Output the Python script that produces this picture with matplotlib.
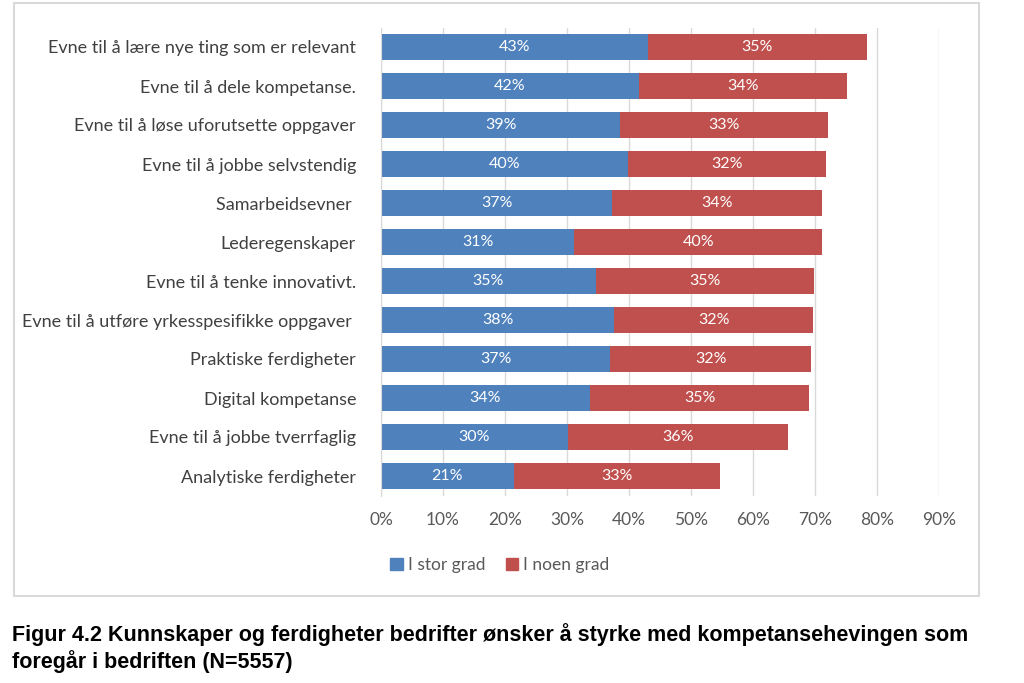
import matplotlib.pyplot as plt
from matplotlib.patches import Rectangle, Patch
from matplotlib.ticker import PercentFormatter

plt.rcParams['font.family'] = ['Lato', 'DejaVu Sans']

categories = ['Evne til å lære nye ting som er relevant',
              'Evne til å dele kompetanse.',
              'Evne til å løse uforutsette oppgaver',
              'Evne til å jobbe selvstendig',
              'Samarbeidsevner ',
              'Lederegenskaper',
              'Evne til å tenke innovativt.',
              'Evne til å utføre yrkesspesifikke oppgaver ',
              'Praktiske ferdigheter',
              'Digital kompetanse',
              'Evne til å jobbe tverrfaglig',
              'Analytiske ferdigheter']
# bar lengths (percent)
stor_grad = [43.0, 41.6, 38.6, 39.9, 37.3, 31.2, 34.6, 37.6, 37.0, 33.7, 30.1, 21.4]
noen_grad = [35.4, 33.6, 33.5, 31.8, 33.9, 39.9, 35.2, 32.1, 32.3, 35.4, 35.6, 33.3]
# printed data labels
stor_labels = ['43%', '42%', '39%', '40%', '37%', '31%', '35%', '38%', '37%', '34%', '30%', '21%']
noen_labels = ['35%', '34%', '33%', '32%', '34%', '40%', '35%', '32%', '32%', '35%', '36%', '33%']
series_names = ['I stor grad', 'I noen grad']
colors = ['#4F81BD', '#C0504D']
xticks = [0, 10, 20, 30, 40, 50, 60, 70, 80, 90]

fig = plt.figure(figsize=(10.24, 6.83), dpi=100)
# outer chart frame
fig.patches.append(Rectangle((14 / 1024, 1 - 596 / 683), 965 / 1024, 593 / 683,
                             transform=fig.transFigure, fill=False,
                             edgecolor='#d9d9d9', linewidth=1.5))

ax = fig.add_axes([381 / 1024, 1 - 495.5 / 683, 558 / 1024, 468 / 683])
y = list(range(len(categories)))
ax.barh(y, stor_grad, height=0.67, color=colors[0])
ax.barh(y, noen_grad, left=stor_grad, height=0.67, color=colors[1])

for yi in y:
    ax.text(stor_grad[yi] / 2, yi, stor_labels[yi], ha='center', va='center',
            color='white', fontsize=11.5)
    ax.text(stor_grad[yi] + noen_grad[yi] / 2, yi, noen_labels[yi], ha='center',
            va='center', color='white', fontsize=11.5)

ax.set_ylim(len(categories) - 0.5, -0.5)
ax.set_xlim(0, 90)
ax.set_xticks(xticks)
ax.xaxis.set_major_formatter(PercentFormatter(decimals=0))
ax.set_yticks(y)
ax.set_yticklabels(categories, fontsize=13, color='#404040')
ax.tick_params(axis='y', length=0, pad=18)
ax.tick_params(axis='x', length=0, pad=12, labelsize=12.5, labelcolor='#595959')
ax.grid(axis='x', color='#d9d9d9', linewidth=1)
ax.set_axisbelow(True)
for s in ['top', 'right', 'bottom']:
    ax.spines[s].set_visible(False)
ax.spines['left'].set_color('#d9d9d9')

handles = [Patch(color=c, label=n) for c, n in zip(colors, series_names)]
fig.legend(handles=handles, loc='center', bbox_to_anchor=(500 / 1024, 1 - 565 / 683),
           ncol=2, frameon=False, fontsize=12.5, handlelength=0.7, handleheight=0.7,
           handletextpad=0.3, columnspacing=1.2, labelcolor='#595959')

fig.text(12 / 1024, 1 - 635 / 683,
         'Figur 4.2 Kunnskaper og ferdigheter bedrifter ønsker å styrke med kompetansehevingen som',
         fontsize=15.5, fontweight='bold', family='Liberation Sans', va='center')
fig.text(12 / 1024, 1 - 662 / 683, 'foregår i bedriften (N=5557)',
         fontsize=15.5, fontweight='bold', family='Liberation Sans', va='center')

fig.savefig('out.png', dpi=100)
